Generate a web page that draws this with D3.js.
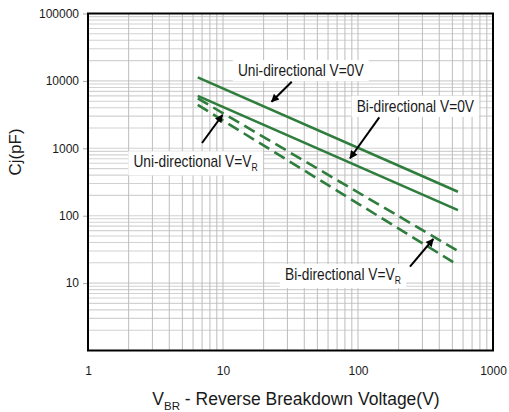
<!DOCTYPE html>
<html>
<head>
  <meta charset="utf-8">
  <title>Cj vs VBR</title>
  <style>
    body { margin: 0; background: #fff; }
    svg#canvas { display: block; }
    text { font-family: "Liberation Sans", Arial, sans-serif; fill: #1a1a1a; }
  </style>
</head>
<body>
  <svg id="canvas"></svg>
  <script src="https://d3js.org/d3.v7.min.js"></script>
  <script>
    // breakdown voltage (V) at the two ends of each curve
    const vbr = [6.5, 550];
    // capacitance (pF)
    const uniZero = [11300, 227];
    const biZero = [6000, 121];
    const uniVR = [5500, 30];
    const biVR = [4400, 18.5];

    const xTicks = [1, 10, 100, 1000];
    const yTicks = [10, 100, 1000, 10000, 100000];

    // annotation text, where it sits and where its arrow points (V, pF)
    const labelText = [["Uni-directional V=0V", ""], ["Bi-directional V=0V", ""], ["Uni-directional V=V", "R"], ["Bi-directional V=V", "R"]];
    const labelAt = [[12.9, 11830], [97.8, 3490], [2.17, 523], [28.8, 11.1]];
    const arrowFrom = [[32.3, 9730], [143.8, 2884], [6.99, 1199], [242.7, 17.5]];
    const arrowTo = [[22.9, 4910], [87.3, 711], [9.91, 3119], [361, 45.1]];

    const series = [
      { values: uniZero, dashed: false },
      { values: biZero, dashed: false },
      { values: uniVR, dashed: true },
      { values: biVR, dashed: true }
    ];

    const dims = { "margin": { "top": 13.5, "right": 16, "bottom": 61.5, "left": 88 }, "width": 405, "height": 337 };
    const svg = d3.select("svg#canvas")
      .attr("width", dims.width + dims.margin.left + dims.margin.right)
      .attr("height", dims.height + dims.margin.top + dims.margin.bottom);
    const fig = svg.append("g")
      .attr("transform", "translate(" + dims.margin.left + "," + dims.margin.top + ")");

    const x = d3.scaleLog().domain([1, 1000]).range([0, dims.width]);
    const y = d3.scaleLog().domain([1, 100000]).range([dims.height, 0]);

    // grid: 1..9 of every decade
    const minor = (lo, hi) => {
      const out = [];
      for (let p = lo; p < hi; p *= 10) d3.range(1, 10).forEach(k => out.push(k * p));
      return out;
    };

    fig.append("g").selectAll("line")
      .data(minor(1, 100000).filter(d => d > 1))
      .enter().append("line")
      .attr("x1", 0).attr("x2", dims.width)
      .attr("y1", d => y(d)).attr("y2", d => y(d))
      .style("stroke", "#d2d2d2").style("stroke-width", 1.1);

    fig.append("g").selectAll("line")
      .data(minor(1, 1000).filter(d => d > 1))
      .enter().append("line")
      .attr("y1", 0).attr("y2", dims.height)
      .attr("x1", d => x(d)).attr("x2", d => x(d))
      .style("stroke", "#bdbdbd").style("stroke-width", 1);

    // annotation boxes
    const labels = fig.selectAll(".label")
      .data(labelText)
      .enter().append("g")
      .attr("class", "label")
      .attr("transform", (d, i) => "translate(" + x(labelAt[i][0]) + "," + y(labelAt[i][1]) + ") scale(0.86,1)");

    labels.each(function (d) {
      const g = d3.select(this);
      const t = g.append("text").style("font-size", "16px");
      t.append("tspan").text(d[0]);
      if (d[1]) t.append("tspan").attr("dy", 4).style("font-size", "10px").text(d[1]);
      const b = t.node().getBBox();
      g.insert("rect", "text")
        .attr("x", b.x - 6).attr("y", b.y - 1)
        .attr("width", b.width + 12).attr("height", b.height + 3)
        .style("fill", "#fff");
    });

    // curves
    const line = d3.line().x(d => x(d[0])).y(d => y(d[1]));
    fig.selectAll(".curve")
      .data(series)
      .enter().append("path")
      .attr("class", "curve")
      .attr("d", s => line(vbr.map((v, i) => [v, s.values[i]])))
      .style("fill", "none")
      .style("stroke", "#2f7d3d")
      .style("stroke-width", 2.6)
      .style("stroke-dasharray", s => s.dashed ? "12,6" : null);

    // arrows
    svg.append("defs").append("marker")
      .attr("id", "head")
      .attr("markerUnits", "userSpaceOnUse")
      .attr("viewBox", "0 0 10 10")
      .attr("refX", 9).attr("refY", 5)
      .attr("markerWidth", 10).attr("markerHeight", 8)
      .attr("orient", "auto")
      .append("path")
      .attr("d", "M0,0L10,5L0,10z")
      .style("fill", "#000");

    fig.selectAll(".arrow")
      .data(arrowFrom)
      .enter().append("line")
      .attr("class", "arrow")
      .attr("x1", d => x(d[0])).attr("y1", d => y(d[1]))
      .attr("x2", (d, i) => x(arrowTo[i][0])).attr("y2", (d, i) => y(arrowTo[i][1]))
      .style("stroke", "#000").style("stroke-width", 2)
      .attr("marker-end", "url(#head)");

    // axes
    const yAxis = fig.append("g")
      .call(d3.axisLeft(y).tickValues(yTicks).tickFormat(d3.format("d")).tickSize(5).tickPadding(4));
    yAxis.select(".domain").remove();
    yAxis.selectAll("line").style("stroke", "#aaa");
    yAxis.selectAll("text").style("font-size", "12px").style("font-family", "Liberation Sans, Arial, sans-serif");

    const xAxis = fig.append("g")
      .attr("transform", "translate(0," + dims.height + ")")
      .call(d3.axisBottom(x).tickValues(xTicks).tickFormat(d3.format("d")).tickSize(0).tickPadding(16));
    xAxis.select(".domain").remove();
    xAxis.selectAll("text").style("font-size", "12px").style("font-family", "Liberation Sans, Arial, sans-serif");

    fig.append("rect")
      .attr("width", dims.width).attr("height", dims.height)
      .style("fill", "none").style("stroke", "#000").style("stroke-width", 2);

    // axis titles
    const xt = svg.append("text")
      .attr("x", dims.margin.left + 208).attr("y", 405)
      .attr("text-anchor", "middle")
      .style("font-size", "17.5px");
    xt.append("tspan").text("V");
    xt.append("tspan").attr("dy", 5).style("font-size", "11.5px").text("BR");
    xt.append("tspan").attr("dy", -5).text(" - Reverse Breakdown Voltage(V)");

    svg.append("text")
      .attr("transform", "translate(21,152) rotate(-90)")
      .attr("text-anchor", "middle")
      .style("font-size", "17px")
      .text("Cj(pF)");
  </script>
</body>
</html>
